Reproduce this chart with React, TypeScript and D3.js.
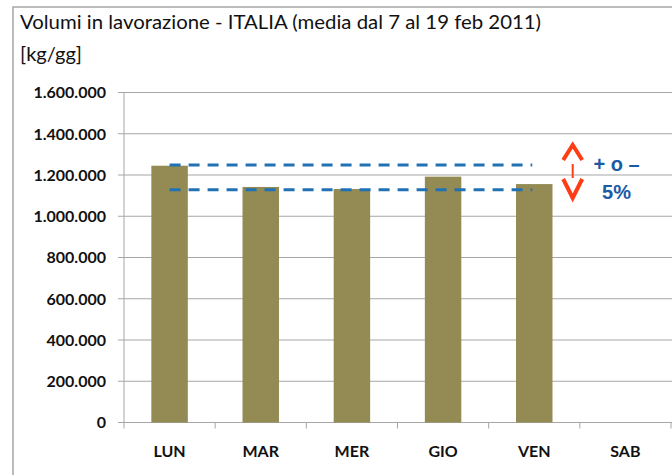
import React from "react";
import * as d3 from "d3";

const categories = ["LUN", "MAR", "MER", "GIO", "VEN", "SAB"];
const values: (number | null)[] = [1245000, 1142000, 1132000, 1192000, 1156000, null];
const yTicks = [0, 200000, 400000, 600000, 800000, 1000000, 1200000, 1400000, 1600000];
const bandLines = [1248500, 1128700];
const titleLine1 = "Volumi in lavorazione  - ITALIA (media dal 7 al 19 feb 2011)";
const titleLine2 = "[kg/gg]";
const noteLine1 = "+ o \u2013";
const noteLine2 = "5%";

const W = 672;
const H = 475;
const plot = { left: 124, right: 671, top: 92.5, bottom: 422.5 };
const FONT = "Lato, 'Open Sans', sans-serif";
const GRID = "#a6a6a6";
const BAR = "#938a54";
const DASH = "#2171b5";
const NOTE = "#1c5aa6";
const RED = "#ff3c14";

const fmt = (v: number) => d3.format(",")(v).replace(/,/g, ".");

export default function App() {
  const x = d3.scaleBand<string>().domain(categories).range([plot.left, plot.right]).paddingInner(0.6).paddingOuter(0.3);
  const xb = d3.scaleBand<string>().domain(categories).range([plot.left, plot.right]);
  const y = d3.scaleLinear().domain([0, 1600000]).range([plot.bottom, plot.top]);

  const first = categories[0];
  const fifth = categories[4];
  const dashX1 = (xb(first) as number) + xb.bandwidth() / 2;
  const dashX2 = (xb(fifth) as number) + xb.bandwidth() / 2 - 2;

  const ax = 572.7;
  return (
    <svg width={W} height={H} style={{ position: "absolute", left: 0, top: 0, background: "#fff" }}>
      <rect x={0} y={0} width={W} height={H} fill="#fff" />
      {/* frame */}
      <path d={`M13,${H + 2} L13,7 L${W + 2},7`} fill="none" stroke={GRID} strokeWidth={1.5} />
      {/* title */}
      <text x={20} y={28.5} fontFamily={FONT} fontSize={18.5} fill="#111" textLength={521} lengthAdjust="spacingAndGlyphs">
        {titleLine1}
      </text>
      <text x={20} y={61} fontFamily={FONT} fontSize={18.5} fill="#111" textLength={62} lengthAdjust="spacingAndGlyphs">
        {titleLine2}
      </text>
      {/* gridlines & y ticks */}
      {yTicks.map((t) => (
        <g key={t}>
          <line x1={plot.left - 6} x2={W} y1={y(t)} y2={y(t)} stroke={GRID} strokeWidth={1} />
          <text x={106} y={y(t)} dy="0.36em" textAnchor="end" fontFamily={FONT} fontSize={16} fontWeight="bold" fill="#111">
            {fmt(t)}
          </text>
        </g>
      ))}
      {/* y axis */}
      <line x1={plot.left} x2={plot.left} y1={plot.top} y2={plot.bottom} stroke={GRID} strokeWidth={1} />
      {/* x ticks */}
      {categories.map((c) => (
        <line key={"t" + c} x1={xb(c)} x2={xb(c)} y1={plot.bottom} y2={plot.bottom + 6} stroke={GRID} />
      ))}
      <line x1={plot.right} x2={plot.right} y1={plot.bottom} y2={plot.bottom + 6} stroke={GRID} />
      {/* bars */}
      {categories.map((c, i) =>
        values[i] == null ? null : (
          <rect key={c} x={x(c)} y={y(values[i] as number)} width={x.bandwidth()} height={plot.bottom - y(values[i] as number)} fill={BAR} />
        )
      )}
      {/* x labels */}
      {categories.map((c) => (
        <text key={"l" + c} x={(xb(c) as number) + xb.bandwidth() / 2} y={457} textAnchor="middle" fontFamily={FONT} fontSize={16} fontWeight="bold" fill="#111">
          {c}
        </text>
      ))}
      {/* dashed band */}
      {bandLines.map((v) => (
        <line key={v} x1={dashX1} x2={dashX2} y1={y(v)} y2={y(v)} stroke={DASH} strokeWidth={3} strokeDasharray="11 8" />
      ))}
      {/* arrow */}
      <g stroke={RED} strokeWidth={4} fill="none" strokeLinejoin="miter">
        <polyline points={`${ax - 9.5},160 ${ax},145 ${ax + 9.5},160`} />
        <line x1={ax} x2={ax} y1={164} y2={178} strokeWidth={2} />
        <polyline points={`${ax - 9.5},179 ${ax},198 ${ax + 9.5},179`} />
      </g>
      <text x={616.5} y={170.5} textAnchor="middle" fontFamily="'Liberation Sans', Arial, sans-serif" fontWeight="bold" fontSize={20} fill={NOTE}>
        {noteLine1}
      </text>
      <text x={616.5} y={199} textAnchor="middle" fontFamily="'Liberation Sans', Arial, sans-serif" fontWeight="bold" fontSize={20} fill={NOTE}>
        {noteLine2}
      </text>
    </svg>
  );
}
